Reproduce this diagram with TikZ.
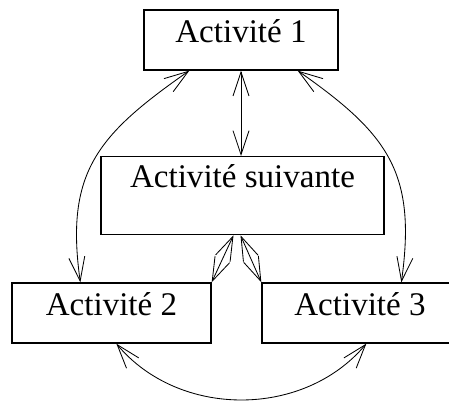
\documentclass[tikz,border=0pt]{standalone}
\usepackage{fontspec}
\setmainfont{Liberation Serif}
\usetikzlibrary{arrows.meta,calc}
\tikzset{
  actbox/.style={draw,line width=0.9pt,inner sep=0pt,text height=0.8cm,text depth=0.7cm,
    font=\fontsize{23.5}{28}\selectfont},
  link/.style={line width=0.6pt,
    {Straight Barb[length=0.6cm,width=0.4cm]}-{Straight Barb[length=0.6cm,width=0.4cm]}}
}
\begin{document}
\begin{tikzpicture}[x=0.025cm,y=-0.025cm]
  \clip (0,0) rectangle (449,402);
  % Boxes
  \node[actbox,minimum width=4.85cm] (act1) at (241,40) {Activité 1};
  \node[actbox,minimum width=7.075cm,anchor=north,text height=0.775cm,text depth=1.175cm]
    (suivante) at (242.5,156) {Activité suivante};
  \node[actbox,minimum width=4.975cm] (act2) at (111.5,313) {Activité 2};
  \node[actbox,minimum width=4.9cm] (act3) at (360,313) {Activité 3};
  % Links
  \draw[link] (act1.south) -- (act1.south |- suivante.north);
  \draw[link] ($(act1.south west)+(46,0)$) to[out=215,in=98,looseness=1.2] ($(act2.north west)+(69,0)$);
  \draw[link] ($(act1.south east)+(-41,0)$) to[out=-35,in=82,looseness=1.2] ($(act3.north west)+(140,0)$);
  \draw[link] ($(suivante.south)+(-9,0)$) -- (act2.north east);
  \draw[link] ($(suivante.south)+(-2,0)$) -- (act3.north west);
  \draw[link] ($(act2.south west)+(105,0)$) to[out=-50,in=230] ($(act3.south west)+(105,0)$);
\end{tikzpicture}
\end{document}
